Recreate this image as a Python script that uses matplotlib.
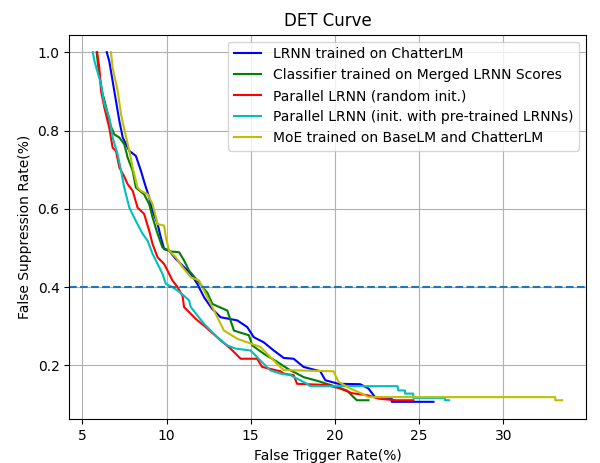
import numpy as np
import matplotlib
matplotlib.use('Agg')
import matplotlib.pyplot as plt

# DET curves (false trigger %, false suppression)
lrnn_x = [6.45, 6.60, 6.80, 7.00, 7.20, 7.40, 7.79, 8.18, 8.48, 8.70, 8.97, 9.17, 9.47, 9.66,
          9.86, 10.15, 10.55, 11.04, 11.44, 11.83, 12.23, 12.70, 13.21, 14.20, 14.79, 15.18,
          15.77, 16.37, 16.96, 17.55, 18.14, 19.13, 19.43, 20.21, 21.50, 21.99, 22.38, 23.37,
          23.37, 25.85]
lrnn_y = [1.0, 0.977, 0.926, 0.875, 0.824, 0.782, 0.748, 0.735, 0.697, 0.665, 0.629, 0.595,
          0.561, 0.527, 0.497, 0.493, 0.472, 0.451, 0.434, 0.408, 0.374, 0.345, 0.323, 0.315,
          0.298, 0.272, 0.259, 0.238, 0.219, 0.217, 0.196, 0.185, 0.162, 0.153, 0.152, 0.141,
          0.119, 0.115, 0.107, 0.107]

clf_x = [5.85, 5.95, 6.17, 6.41, 6.70, 6.90, 7.20, 7.49, 7.69, 7.99, 8.18, 8.67, 8.97, 9.17,
         9.47, 9.76, 10.25, 10.75, 11.04, 11.34, 11.83, 12.43, 12.72, 13.61, 14.00, 14.89,
         15.09, 15.77, 16.57, 17.36, 17.75, 18.14, 19.0, 19.5, 20.12, 20.71, 21.10, 21.30, 21.99]
clf_y = [1.0, 0.96, 0.90, 0.86, 0.81, 0.790, 0.782, 0.765, 0.731, 0.697, 0.654, 0.637, 0.612,
         0.578, 0.536, 0.501, 0.491, 0.489, 0.468, 0.442, 0.417, 0.385, 0.357, 0.340, 0.289,
         0.277, 0.251, 0.230, 0.209, 0.187, 0.179, 0.170, 0.160, 0.153, 0.145, 0.136, 0.119,
         0.111, 0.111]

par_x = [5.88, 6.01, 6.11, 6.31, 6.60, 6.80, 7.00, 7.20, 7.46, 7.69, 7.99, 8.28, 8.67, 8.97,
         9.17, 9.47, 9.86, 10.06, 10.35, 10.62, 10.95, 11.04, 11.73, 12.43, 13.21, 13.80, 14.40,
         15.38, 15.68, 16.76, 16.96, 17.55, 17.75, 19.5, 20.31, 21.02, 21.91, 22.6, 23.6, 24.66]
par_y = [1.0, 0.960, 0.901, 0.858, 0.807, 0.756, 0.748, 0.705, 0.685, 0.663, 0.646, 0.603,
         0.587, 0.544, 0.510, 0.476, 0.459, 0.442, 0.417, 0.402, 0.378, 0.349, 0.319, 0.294,
         0.264, 0.243, 0.217, 0.217, 0.196, 0.185, 0.179, 0.175, 0.153, 0.150, 0.141, 0.129,
         0.124, 0.115, 0.111, 0.111]

pre_x = [5.62, 5.72, 5.92, 6.11, 6.31, 6.60, 6.80, 7.10, 7.30, 7.49, 7.79, 8.18, 8.58, 8.88,
         9.17, 9.47, 9.76, 9.96, 10.35, 10.85, 11.34, 11.44, 12.23, 13.02, 13.61, 14.10, 14.99,
         15.38, 16.17, 16.76, 17.36, 18.34, 18.54, 23.72, 23.76, 24.16, 24.16, 24.65, 24.65,
         26.53, 26.53, 26.78]
pre_y = [1.0, 0.977, 0.947, 0.918, 0.867, 0.833, 0.782, 0.739, 0.697, 0.654, 0.603, 0.569,
         0.536, 0.518, 0.485, 0.459, 0.434, 0.408, 0.400, 0.385, 0.366, 0.349, 0.306, 0.272,
         0.251, 0.243, 0.238, 0.221, 0.187, 0.179, 0.175, 0.153, 0.147, 0.147, 0.136, 0.136,
         0.128, 0.128, 0.117, 0.117, 0.111, 0.111]

moe_x = [6.70, 6.80, 7.10, 7.30, 7.49, 7.79, 7.99, 8.28, 8.48, 8.88, 9.17, 9.47, 9.86, 9.96,
         10.15, 10.55, 10.95, 11.44, 11.93, 12.23, 12.72, 13.41, 14.20, 14.79, 15.58, 16.17,
         16.57, 16.96, 19.92, 20.21, 20.91, 21.60, 21.99, 33.08, 33.08, 33.49]
moe_y = [1.0, 0.960, 0.901, 0.841, 0.803, 0.748, 0.705, 0.654, 0.646, 0.637, 0.612, 0.561,
         0.557, 0.527, 0.493, 0.476, 0.451, 0.425, 0.417, 0.391, 0.349, 0.289, 0.268, 0.259,
         0.247, 0.221, 0.204, 0.188, 0.185, 0.158, 0.141, 0.128, 0.119, 0.119, 0.111, 0.111]

threshold = 0.4

curves = [
    (lrnn_x, lrnn_y, 'b', 'LRNN trained on ChatterLM'),
    (clf_x, clf_y, 'g', 'Classifier trained on Merged LRNN Scores'),
    (par_x, par_y, 'r', 'Parallel LRNN (random init.)'),
    (pre_x, pre_y, 'c', 'Parallel LRNN (init. with pre-trained LRNNs)'),
    (moe_x, moe_y, 'y', 'MoE trained on BaseLM and ChatterLM'),
]

fig, ax = plt.subplots(figsize=(6, 4.63), dpi=100)
for xs, ys, c, label in curves:
    ax.plot(np.array(xs), np.array(ys), color=c, label=label)
ax.axhline(threshold, linestyle='--')
ax.set_title('DET Curve')
ax.set_xlabel('False Trigger Rate(%)')
ax.set_ylabel('False Suppression Rate(%)')
ax.grid(True)
ax.legend(loc='upper right')
fig.subplots_adjust(left=0.1155, right=0.976, top=0.925, bottom=0.0944)
plt.savefig('out.png', dpi=100)
